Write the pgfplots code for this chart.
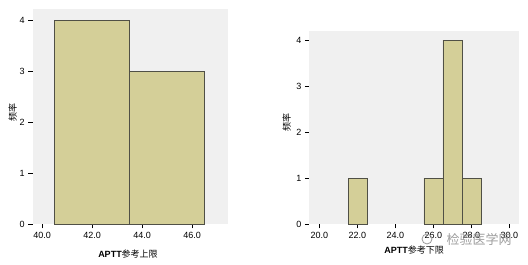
\documentclass[border=0pt]{standalone}
\usepackage{pgfplots}
\pgfplotsset{compat=1.18}
\usepackage{fontspec}
\setmainfont{Liberation Sans}
\newfontfamily\cjk{Noto Sans CJK SC}
\definecolor{bgc}{RGB}{240,240,240}
\definecolor{barc}{RGB}{212,207,152}
\definecolor{edgec}{RGB}{80,80,70}
\pgfplotsset{
  spss/.style={
    scale only axis,
    axis background/.style={fill=bgc},
    axis x line*=bottom, axis y line*=left,
    axis line style={draw=none},
    tick align=outside,
    major tick length=4.5pt,
    tick style={black, line width=0.6pt},
    ymin=0,
    ytick={0,1,2,3,4},
    tick label style={font=\fontsize{9}{10}\selectfont},
    /pgf/number format/assume math mode=true,
    xticklabel style={/pgf/number format/.cd, fixed, fixed zerofill, precision=1},
    yticklabel style={/pgf/number format/.cd, fixed, precision=0},
    clip=false,
  },
  barsty/.style={ybar interval, fill=barc, draw=edgec, line width=0.7pt},
}
\begin{document}
\begin{tikzpicture}
\useasboundingbox (0pt,0pt) rectangle (528pt,265pt);
\begin{axis}[spss, at={(32.7pt,41pt)}, anchor=south west,
  width=195.3pt, height=214.7pt,
  xmin=39.62, xmax=47.43, ymax=4.22,
  xtick={40,42,44,46}]
\addplot[barsty] coordinates {(40.5,4) (43.5,3) (46.5,3)};
\end{axis}
\begin{axis}[spss, at={(309.3pt,41pt)}, anchor=south west,
  width=209.4pt, height=193pt,
  xmin=19.47, xmax=30.49, ymax=4.2,
  xtick={20,22,24,26,28,30}]
\addplot[barsty] coordinates {(21.5,1) (22.5,1)};
\addplot[barsty] coordinates {(25.5,1) (26.5,4) (27.5,1) (28.5,1)};
\end{axis}
\node[rotate=90, font=\cjk\fontsize{9}{10}\selectfont] at (12.7pt,152pt) {频率};
\node[rotate=90, font=\cjk\fontsize{9}{10}\selectfont] at (286.7pt,142pt) {频率};
\node[font=\fontsize{9}{10}\selectfont] at (128pt,11pt) {\textbf{APTT}{\cjk 参考上限}};
\node[font=\fontsize{9}{10}\selectfont] at (414pt,15pt) {\textbf{APTT}{\cjk 参考下限}};
\node[font=\cjk\fontsize{13}{14}\selectfont, text=gray!85, opacity=0.9] at (479pt,26pt) {检验医学网};
\draw[gray!80, line width=0.8pt] (427pt,26pt) circle (5pt);
\end{tikzpicture}
\end{document}
